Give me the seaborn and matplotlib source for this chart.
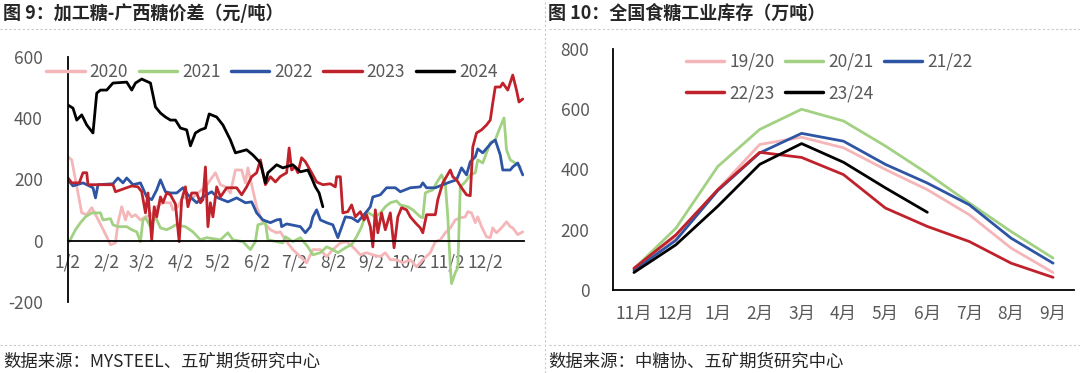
import matplotlib
matplotlib.use('Agg')
import matplotlib.pyplot as plt
from matplotlib.lines import Line2D
import pandas as pd
import seaborn as sns

# ---- 图9 加工糖-广西糖价差 (x = day of year, y = 元/吨)
days_2020 = [2, 5, 8, 10, 13, 17, 21, 25, 29, 33, 36, 40, 42, 45, 48, 50, 53, 56, 60, 64, 69, 73, 78, 84, 86, 90,
             94, 100, 106, 112, 116, 120, 124, 128, 132, 136, 141, 144, 146, 149, 153, 157, 164, 169, 172, 177, 182,
             188, 193, 198, 204, 209, 214, 220, 225, 230, 236, 241, 246, 252, 256, 260, 265, 270, 276, 281, 286, 292,
             296, 300, 304, 308, 312, 316, 320, 322, 325, 328, 330, 333, 337, 340, 342, 345, 349, 353, 356, 358, 362,
             366]
diff_2020 = [274, 264, 199, 156, 91, 85, 108, 78, 46, 13, -13, -7, 59, 111, 68, 95, 78, 85, 68, 78, 85, 111, 124, 124,
             101, 111, 143, 134, 156, 176, 199, 222, 183, 176, 156, 231, 231, 189, 238, 183, 111, 68, 36, 26, 29, -3,
             -29, -52, -72, -29, -29, -52, -29, -7, -3, -20, -46, -39, -46, -52, -39, -62, -62, -72, -62, -85, -62, -39,
             -3, 3, 26, 42, 68, 75, 78, 95, 91, 59, 78, 46, 13, 10, 42, 26, 42, 62, 46, 42, 20, 29]

days_2021 = [3, 8, 12, 16, 21, 28, 30, 36, 38, 42, 49, 53, 57, 60, 62, 64, 68, 72, 76, 81, 86, 88, 96, 102, 108, 113,
             124, 130, 134, 142, 148, 152, 154, 160, 162, 169, 174, 176, 182, 188, 194, 198, 204, 209, 214, 218, 224,
             229, 233, 237, 241, 248, 252, 256, 260, 265, 268, 274, 278, 284, 286, 288, 290, 294, 297, 301, 304, 306,
             308, 309, 312, 314, 316, 320, 324, 328, 330, 334, 337, 340, 344, 348, 351, 353, 356, 360, 364]
diff_2021 = [-3, 36, 59, 78, 91, 91, 68, 72, 52, 46, 46, 36, 29, -3, 68, 75, 46, 78, 42, 36, 46, 52, 46, 29, 3, 10, 3,
             26, 3, -3, -29, -3, 52, 59, 3, -3, -7, 13, -3, 10, -20, -46, -39, -20, -29, -39, -23, -13, 13, 46, 95, 78,
             91, 111, 124, 130, 117, 111, 101, 78, 75, 156, 160, 166, 189, 215, 189, 78, -85, -140, -104, -88, 176, 192,
             215, 222, 264, 254, 287, 320, 329, 372, 401, 297, 264, 254, 241]

days_2022 = [2, 6, 14, 22, 24, 26, 38, 42, 46, 49, 54, 60, 65, 69, 73, 76, 80, 84, 89, 94, 98, 105, 110, 117, 122, 130,
             137, 144, 149, 153, 158, 164, 169, 172, 173, 177, 188, 192, 196, 198, 201, 204, 209, 214, 218, 224, 229,
             234, 241, 244, 246, 252, 257, 264, 268, 276, 284, 286, 289, 296, 302, 308, 313, 317, 321, 324, 328, 330,
             334, 338, 341, 344, 348, 350, 356, 358, 362, 366]
diff_2022 = [199, 179, 189, 173, 140, 183, 186, 205, 189, 205, 183, 189, 143, 134, 166, 199, 160, 156, 156, 173, 150,
             124, 143, 160, 140, 127, 140, 124, 127, 91, 68, 59, 68, 70, 46, 55, 46, 26, 46, 78, 101, 68, 59, 52, 10, 78,
             75, 62, 95, 111, 143, 150, 173, 173, 160, 173, 176, 189, 173, 173, 183, 192, 199, 238, 215, 258, 274, 300,
             287, 306, 320, 329, 280, 231, 231, 241, 254, 215]

days_2023 = [2, 5, 11, 14, 17, 18, 38, 40, 53, 58, 61, 64, 66, 69, 71, 73, 76, 78, 81, 84, 88, 91, 93, 96, 98, 101, 105,
             108, 110, 112, 114, 116, 118, 121, 124, 129, 137, 141, 145, 149, 153, 156, 160, 164, 168, 172, 177, 179,
             181, 184, 186, 189, 192, 197, 201, 206, 212, 216, 217, 220, 222, 226, 229, 232, 236, 239, 241, 244, 246,
             248, 250, 253, 256, 260, 263, 266, 269, 273, 276, 280, 284, 286, 289, 296, 298, 302, 308, 310, 313, 317,
             321, 324, 326, 329, 333, 337, 340, 342, 344, 348, 350, 354, 358, 361, 363, 366]
diff_2023 = [205, 189, 189, 222, 222, 183, 183, 160, 179, 176, 160, 91, 156, 3, 111, 78, 143, 124, 156, 150, 120, -3,
             134, 176, 111, 156, 156, 124, 134, 241, 46, 124, 78, 176, 143, 173, 173, 150, 176, 209, 222, 264, 183, 209,
             192, 210, 222, 303, 231, 241, 222, 271, 258, 222, 192, 183, 186, 176, 209, 209, 91, 95, 117, 78, 95, 68,
             85, 46, -20, 101, 26, 91, 36, 91, -23, 78, 108, 101, 78, 59, 42, 26, 85, 85, 134, 189, 231, 209, 199, 173,
             150, 147, 306, 352, 362, 378, 394, 450, 502, 502, 515, 492, 541, 492, 453, 463]

days_2024 = [2, 6, 9, 13, 17, 22, 25, 28, 33, 38, 49, 53, 56, 61, 68, 72, 76, 80, 84, 88, 92, 97, 100, 104, 108, 112,
             115, 121, 126, 132, 136, 145, 150, 156, 160, 162, 169, 174, 182, 188, 194, 197, 200, 203, 206]
diff_2024 = [443, 433, 394, 411, 378, 352, 482, 492, 492, 515, 518, 492, 515, 528, 515, 437, 417, 404, 394, 394, 368,
             362, 310, 352, 362, 368, 414, 404, 378, 329, 287, 297, 280, 254, 189, 222, 248, 238, 248, 225, 231, 205,
             176, 156, 111]

tick_days = [2, 33, 61, 92, 122, 153, 183, 214, 245, 275, 306, 336]
tick_labels = ['1/2', '2/2', '3/2', '4/2', '5/2', '6/2', '7/2', '8/2', '9/2', '10/2', '11/2', '12/2']

# ---- 图10 全国食糖工业库存 (万吨)
months = ['11月', '12月', '1月', '2月', '3月', '4月', '5月', '6月', '7月', '8月', '9月']
stock_1920 = [72, 176, 333, 483, 507, 472, 400, 333, 250, 139, 58]
stock_2021 = [70, 205, 410, 533, 600, 561, 478, 387, 289, 194, 106]
stock_2122 = [65, 165, 330, 455, 520, 494, 417, 355, 283, 172, 89]
stock_2223 = [72, 183, 333, 457, 440, 383, 272, 211, 161, 89, 42]
stock_2324 = [58, 150, 278, 417, 486, 424, 339, 258]

PINK, GREEN, BLUE, RED, BLACK = '#F4B6B8', '#A2D183', '#2E55A3', '#C0222B', '#000000'
GRAY = '#595959'

sns.set_style('white')
plt.rcParams['font.family'] = ['Noto Sans CJK SC', 'DejaVu Sans']
plt.rcParams['axes.unicode_minus'] = False

fig = plt.figure(figsize=(10.8, 3.73), dpi=100)
W, H = 1080, 373

# ---------------- left chart
left = pd.concat([
    pd.DataFrame({'day': days_2020, 'diff': diff_2020, 'year': '2020'}),
    pd.DataFrame({'day': days_2021, 'diff': diff_2021, 'year': '2021'}),
    pd.DataFrame({'day': days_2022, 'diff': diff_2022, 'year': '2022'}),
    pd.DataFrame({'day': days_2023, 'diff': diff_2023, 'year': '2023'}),
    pd.DataFrame({'day': days_2024, 'diff': diff_2024, 'year': '2024'}),
])
year_colors = {'2020': PINK, '2021': GREEN, '2022': BLUE, '2023': RED, '2024': BLACK}

ax1 = fig.add_axes([68 / W, 71 / H, (524 - 68) / W, (316 - 71) / H])
sns.lineplot(data=left, x='day', y='diff', hue='year', palette=year_colors,
             estimator=None, linewidth=2.0, legend=False, ax=ax1)
ax1.set_xlim(2, 367)
ax1.set_ylim(-200, 600)
ax1.set_yticks([-200, 0, 200, 400, 600])
ax1.set_xticks(tick_days)
ax1.set_xticklabels(tick_labels)
ax1.set_xlabel('')
ax1.set_ylabel('')
for s in ['top', 'right']:
    ax1.spines[s].set_visible(False)
ax1.spines['bottom'].set_position(('data', 0))
for s in ['left', 'bottom']:
    ax1.spines[s].set_color('black')
    ax1.spines[s].set_linewidth(1.3)
ax1.tick_params(axis='x', direction='out', length=4, width=1.2, color='black',
                labelcolor=GRAY, labelsize=12.5, pad=5)
ax1.tick_params(axis='y', direction='out', length=4, width=1.2, color='black',
                labelcolor=GRAY, labelsize=12.5, pad=14)

h1 = [Line2D([], [], color=c, lw=2.5) for c in year_colors.values()]
fig.legend(h1, list(year_colors.keys()), loc='center', ncol=5, frameon=False,
           bbox_to_anchor=(272 / W, 1 - 72 / H), fontsize=12.5, labelcolor=GRAY,
           handlelength=2.2, handletextpad=0.3, columnspacing=0.6)

# ---------------- right chart
right = pd.concat([
    pd.DataFrame({'month': months, 'stock': stock_1920, 'season': '19/20'}),
    pd.DataFrame({'month': months, 'stock': stock_2021, 'season': '20/21'}),
    pd.DataFrame({'month': months, 'stock': stock_2122, 'season': '21/22'}),
    pd.DataFrame({'month': months, 'stock': stock_2223, 'season': '22/23'}),
    pd.DataFrame({'month': months[:len(stock_2324)], 'stock': stock_2324, 'season': '23/24'}),
])
season_colors = {'19/20': PINK, '20/21': GREEN, '21/22': BLUE, '22/23': RED, '23/24': BLACK}

ax2 = fig.add_axes([613 / W, 83 / H, 461 / W, 241 / H])
sns.lineplot(data=right, x='month', y='stock', hue='season', palette=season_colors,
             estimator=None, sort=False, linewidth=2.0, legend=False, ax=ax2)
ax2.set_xlim(-0.5, 10.5)
ax2.set_ylim(0, 800)
ax2.set_yticks([0, 200, 400, 600, 800])
ax2.set_xticks([i - 0.5 for i in range(len(months) + 1)])
ax2.set_xticklabels([])
ax2.set_xticks(range(len(months)), minor=True)
ax2.set_xticklabels(months, minor=True)
ax2.set_xlabel('')
ax2.set_ylabel('')
for s in ['top', 'right']:
    ax2.spines[s].set_visible(False)
for s in ['left', 'bottom']:
    ax2.spines[s].set_color('black')
    ax2.spines[s].set_linewidth(1.3)
ax2.tick_params(axis='x', which='major', direction='out', length=5, width=1.2, color='black')
ax2.tick_params(axis='x', which='minor', length=0, labelcolor=GRAY, labelsize=12.5, pad=11)
ax2.tick_params(axis='y', direction='out', length=5, width=1.2, color='black',
                labelcolor=GRAY, labelsize=12.5, pad=12)

order = ['19/20', '22/23', '20/21', '23/24', '21/22']
h2 = [Line2D([], [], color=season_colors[k], lw=2.5) for k in order]
fig.legend(h2, order, loc='center', ncol=3, frameon=False,
           bbox_to_anchor=(829 / W, 1 - 77.5 / H), fontsize=12.5, labelcolor=GRAY,
           handlelength=2.2, handletextpad=0.3, columnspacing=0.6, labelspacing=0.75)

# ---------------- titles, separators, sources
fig.text(3 / W, 1 - 13 / H, '图 9：加工糖-广西糖价差（元/吨）', fontsize=13, weight='bold', va='center')
fig.text(548 / W, 1 - 13 / H, '图 10：全国食糖工业库存（万吨）', fontsize=13, weight='bold', va='center')
fig.text(3 / W, 1 - 362 / H, '数据来源：MYSTEEL、五矿期货研究中心', fontsize=12.5, va='center')
fig.text(548 / W, 1 - 362 / H, '数据来源：中糖协、五矿期货研究中心', fontsize=12.5, va='center')

dot = dict(color='#c8c8c8', lw=0.8, ls=(0, (2, 2)))
for y in [29, 345]:
    fig.add_artist(Line2D([0, 541 / W], [1 - y / H] * 2, **dot))
    fig.add_artist(Line2D([549 / W, 1], [1 - y / H] * 2, **dot))
fig.add_artist(Line2D([545 / W] * 2, [0, 1], **dot))

fig.savefig('out.png', dpi=100)
